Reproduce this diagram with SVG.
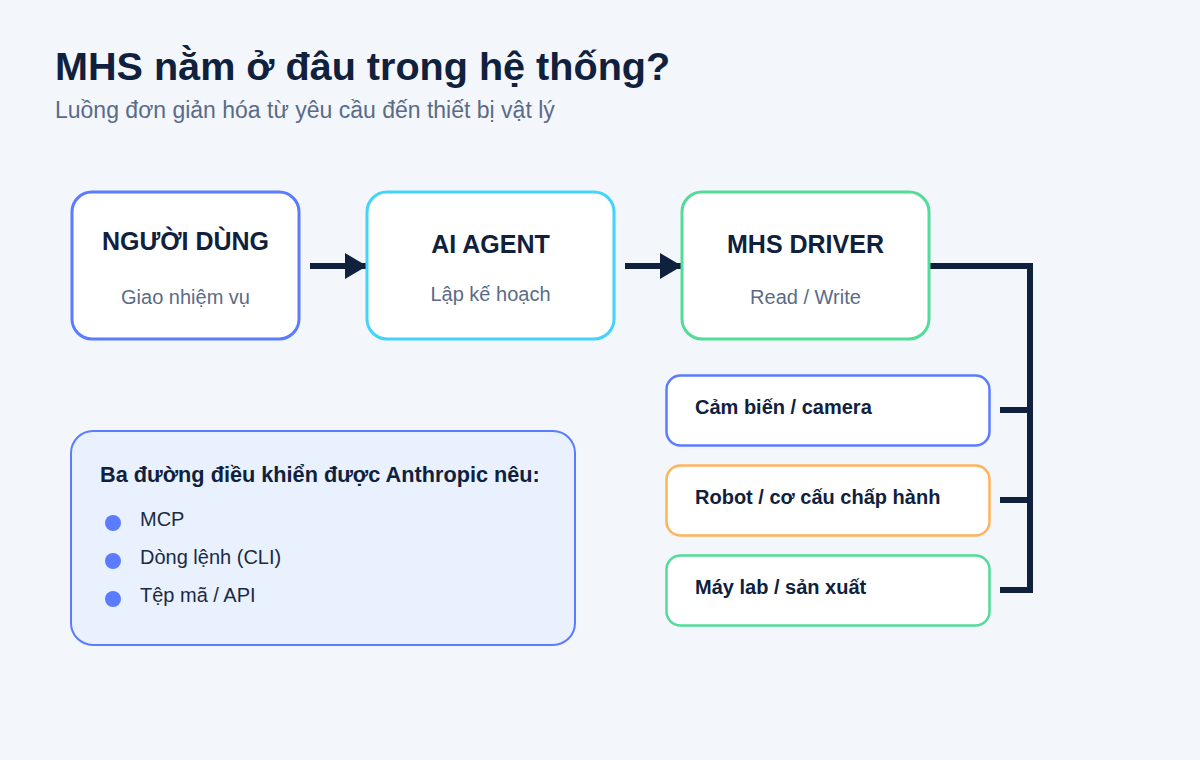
<svg xmlns="http://www.w3.org/2000/svg" width="1200" height="760" viewBox="0 0 1200 760">
  <defs>
    <marker id="arrow" markerUnits="userSpaceOnUse" markerWidth="22" markerHeight="26" refX="21" refY="13" orient="auto">
      <path d="M0,0 L22,13 L0,26 Z" fill="#10213d"/>
    </marker>
    <style>
      .bg { fill: #f3f6fb; }
      .title { font-family: "Liberation Sans", Arial, sans-serif; font-weight: bold; font-size: 39.6px; fill: #10213d; }
      .subtitle { font-family: "Liberation Sans", Arial, sans-serif; font-size: 23px; fill: #5a6b87; }
      .card { fill: #ffffff; stroke-width: 3; }
      .dev { fill: #ffffff; stroke-width: 2.5; }
      .head { font-family: "Liberation Sans", Arial, sans-serif; font-weight: bold; font-size: 25px; fill: #10213d; text-anchor: middle; }
      .sub { font-family: "Liberation Sans", Arial, sans-serif; font-size: 20px; fill: #5a6b87; text-anchor: middle; }
      .devtext { font-family: "Liberation Sans", Arial, sans-serif; font-weight: bold; font-size: 20px; fill: #10213d; }
      .info { fill: #e8f1fd; stroke: #5b7cff; stroke-width: 2; }
      .infohead { font-family: "Liberation Sans", Arial, sans-serif; font-weight: bold; font-size: 21.7px; fill: #10213d; }
      .item { font-family: "Liberation Sans", Arial, sans-serif; font-size: 20px; fill: #1b2a44; }
      .dot { fill: #5b7cff; }
      .conn { fill: none; stroke: #10213d; stroke-width: 6; }
      .blue { stroke: #5b7cff; }
      .cyan { stroke: #43d3fb; }
      .green { stroke: #52dc98; }
      .orange { stroke: #ffb35c; }
    </style>
  </defs>

  <rect class="bg" x="0" y="0" width="1200" height="760"/>

  <text class="title" x="55" y="80">MHS nằm ở đâu trong hệ thống?</text>
  <text class="subtitle" x="55" y="118">Luồng đơn giản hóa từ yêu cầu đến thiết bị vật lý</text>

  <g id="connectors">
    <line class="conn" x1="310" y1="266" x2="366" y2="266" marker-end="url(#arrow)"/>
    <line class="conn" x1="625" y1="266" x2="681" y2="266" marker-end="url(#arrow)"/>
    <polyline class="conn" points="930,266 1030,266 1030,593"/>
    <line class="conn" x1="1000" y1="410" x2="1030" y2="410"/>
    <line class="conn" x1="1000" y1="500" x2="1030" y2="500"/>
    <line class="conn" x1="1000" y1="590" x2="1033" y2="590"/>
  </g>

  <g id="node-user">
    <rect class="card blue" x="72" y="192" width="227" height="147" rx="20"/>
    <text class="head" x="185.5" y="250">NGƯỜI DÙNG</text>
    <text class="sub" x="185.5" y="304">Giao nhiệm vụ</text>
  </g>

  <g id="node-agent">
    <rect class="card cyan" x="367" y="192" width="247" height="147" rx="20"/>
    <text class="head" x="490.5" y="253">AI AGENT</text>
    <text class="sub" x="490.5" y="301">Lập kế hoạch</text>
  </g>

  <g id="node-driver">
    <rect class="card green" x="682" y="192" width="247" height="147" rx="20"/>
    <text class="head" x="805.5" y="253">MHS DRIVER</text>
    <text class="sub" x="805.5" y="304">Read / Write</text>
  </g>

  <g id="node-sensor">
    <rect class="dev blue" x="666.5" y="375.5" width="323" height="70" rx="14"/>
    <text class="devtext" x="695" y="414">Cảm biến / camera</text>
  </g>

  <g id="node-robot">
    <rect class="dev orange" x="666.5" y="465.5" width="323" height="70" rx="14"/>
    <text class="devtext" x="695" y="504">Robot / cơ cấu chấp hành</text>
  </g>

  <g id="node-machine">
    <rect class="dev green" x="666.5" y="555.5" width="323" height="70" rx="14"/>
    <text class="devtext" x="695" y="594">Máy lab / sản xuất</text>
  </g>

  <g id="node-info">
    <rect class="info" x="71" y="431" width="504" height="214" rx="22"/>
    <text class="infohead" x="100" y="482">Ba đường điều khiển được Anthropic nêu:</text>
    <circle class="dot" cx="113" cy="523" r="8"/>
    <text class="item" x="140" y="526">MCP</text>
    <circle class="dot" cx="113" cy="561" r="8"/>
    <text class="item" x="140" y="564">Dòng lệnh (CLI)</text>
    <circle class="dot" cx="113" cy="599" r="8"/>
    <text class="item" x="140" y="602">Tệp mã / API</text>
  </g>
</svg>
